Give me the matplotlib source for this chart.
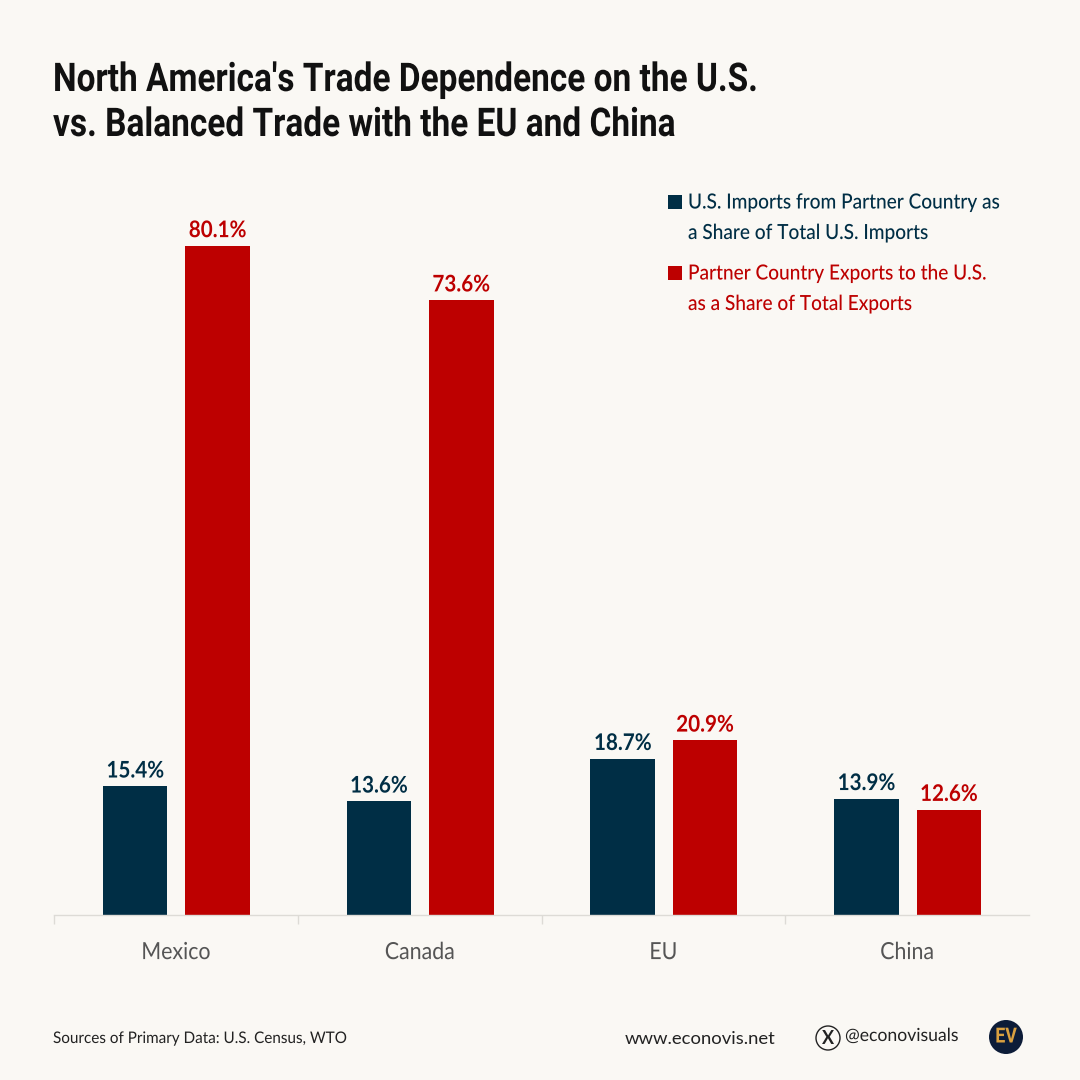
import matplotlib
matplotlib.use("Agg")
import matplotlib.pyplot as plt
from matplotlib.patches import Rectangle, Circle
from matplotlib.patheffects import AbstractPathEffect
from matplotlib.transforms import Affine2D

categories = ["Mexico", "Canada", "EU", "China"]
us_imports = [15.4, 13.6, 18.7, 13.9]
partner_exports = [80.1, 73.6, 20.9, 12.6]
navy = "#002e45"
red = "#bd0000"
bg = "#faf8f4"
body = "Lato"
head = "Roboto"


class Condense(AbstractPathEffect):
    """Narrows real text horizontally, about its start or its centre."""
    def __init__(self, sx, center=False):
        super().__init__()
        self.sx, self.center = sx, center

    def draw_path(self, renderer, gc, tpath, affine, rgbFace=None):
        cx = 0
        if self.center:
            ext = tpath.get_extents()
            cx = (ext.x0 + ext.x1) / 2
        t = Affine2D().translate(-cx, 0).scale(self.sx, 1).translate(cx, 0)
        renderer.draw_path(gc, tpath, t + affine, rgbFace)


fig = plt.figure(figsize=(10.8, 10.8), dpi=100, facecolor=bg)
page = fig.add_axes([0, 0, 1, 1], zorder=0)
page.set_xlim(0, 1080); page.set_ylim(1080, 0); page.axis("off")

ax = fig.add_axes([54/1080, 165/1080, 975/1080, 760/1080], zorder=1)
ax.patch.set_alpha(0)
ax.set_xlim(0, 4)
ax.set_ylim(0, 760/8.352)
w, off_l, off_r = 0.265, 0.167, 0.171
for i, (a, b) in enumerate(zip(us_imports, partner_exports)):
    xc = i + 0.5
    ax.bar(xc - off_l, a, w, color=navy)
    ax.bar(xc + off_r, b, w, color=red)
    for x, v, col in [(xc - off_l, a, navy), (xc + off_r, b, red)]:
        ax.annotate(f"{v}%", (x, v), xytext=(0, 3.5), textcoords="offset points", ha="center", va="bottom",
                    color=col, fontsize=16.5, fontweight="bold", family=body,
                    path_effects=[Condense(0.90, center=True)])
for s in ["top", "left", "right"]:
    ax.spines[s].set_visible(False)
ax.spines["bottom"].set_color("#dddbd6")
ax.spines["bottom"].set_linewidth(1)
ax.set_yticks([])
ax.set_xticks([0, 1, 2, 3])
ax.set_xticklabels([])
ax.tick_params(axis="x", length=6.5, width=1, color="#dddbd6")
ax.set_xticks([0.5, 1.5, 2.5, 3.5], minor=True)
ax.set_xticklabels(categories, minor=True, fontsize=17, color="#555555", family=body,
                   path_effects=[Condense(0.905, center=True)])
ax.tick_params(axis="x", which="minor", length=0, pad=19.5)

for y, line in [(80, "North America's Trade Dependence on the U.S."),
                (125, "vs. Balanced Trade with the EU and China")]:
    page.text(53, y, line, fontsize=28.5, fontweight="bold", color="#111111", family=head,
              va="center", ha="left", path_effects=[Condense(0.844)])

for y, col, l1, l2 in [(202, navy, "U.S. Imports from Partner Country as", "a Share of Total U.S. Imports"),
                       (273, red, "Partner Country Exports to the U.S.", "as a Share of Total Exports")]:
    page.add_patch(Rectangle((668, y - 7), 14, 14, color=col, lw=0))
    for yy, line in [(y + 0.5, l1), (y + 31, l2)]:
        page.text(688, yy, line, fontsize=15, fontweight=500, color=col, family=body, va="center", ha="left",
                  path_effects=[Condense(0.915)])

page.text(53, 1039, "Sources of Primary Data: U.S. Census, WTO", fontsize=11.5, color="#222222", family=body,
          va="center", path_effects=[Condense(0.955)])
page.text(625, 1039, "www.econovis.net", fontsize=13.3, color="#222222", family=body, va="center")
page.add_patch(Circle((828, 1038), 12, fill=False, ec="#222222", lw=1))
page.text(828, 1038, "X", fontsize=13, fontweight="bold", color="#222222", family=body, va="center", ha="center")
page.text(845, 1036, "@econovisuals", fontsize=13, color="#222222", family=body, va="center",
          path_effects=[Condense(0.975)])
page.add_patch(Circle((1006, 1037), 17, color="#0c1c38", lw=0))
page.text(1006, 1037, "EV", fontsize=15, fontweight="bold", color="#d9a040", family=head, va="center", ha="center",
          path_effects=[Condense(0.85, center=True)])

fig.savefig("out.png", dpi=100, facecolor=bg)
